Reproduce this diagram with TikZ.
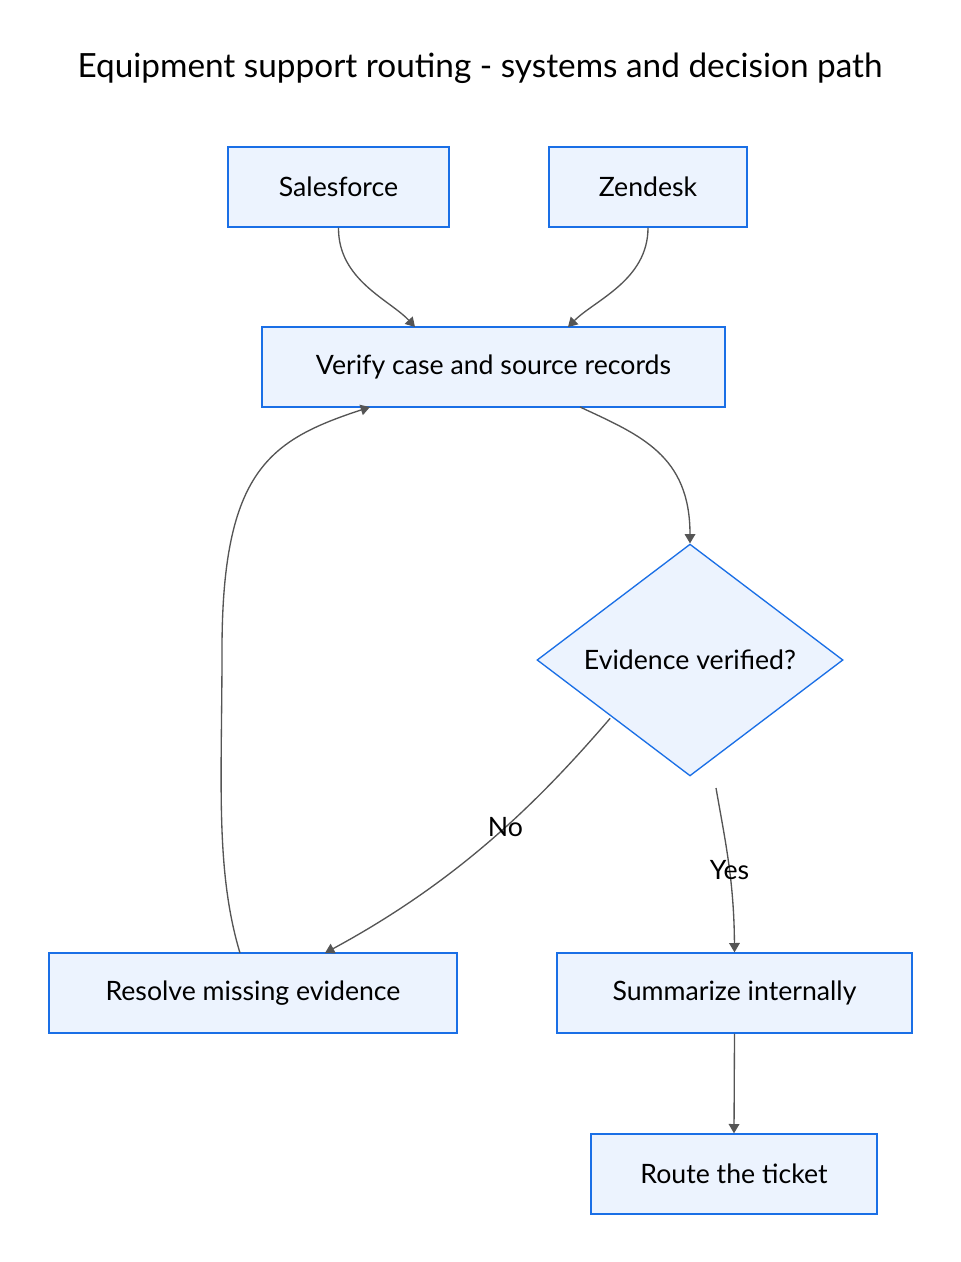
\documentclass[tikz,border=0pt]{standalone}
\usepackage{fontspec}
\setmainfont{Lato}
\usetikzlibrary{positioning,shapes.geometric,arrows.meta}

\definecolor{boxfill}{HTML}{ECF3FE}
\definecolor{boxline}{HTML}{1A6FE6}
\definecolor{edgecol}{HTML}{555555}

\begin{document}
\begin{tikzpicture}[x=0.75pt,y=-0.75pt]
		\tikzset{procbox/.style={draw=boxline,fill=boxfill,line width=1pt,font=\fontsize{20}{24}\selectfont,text=black}}
		\tikzset{flowedge/.style={draw=edgecol,line width=1pt,-{Triangle[length=7pt,width=8pt]}}}
		\tikzset{edgelabel/.style={font=\fontsize{20}{24}\selectfont}}
		
		\useasboundingbox[fill=white] (0,0) rectangle (960,1262);
		
		\newcommand\drawBox[5] % {x} {y} {width} {name} {label}
		{
			\node[procbox,minimum width=#3*0.75pt,minimum height=60pt] at (#1, #2) (#4) {#5};
		}
		
		\node[font=\fontsize{25}{30}\selectfont] (title) at (480,68) {Equipment support routing - systems and decision path};
		
		\drawBox{338.5}{187}{221}{sales}{Salesforce}
		\drawBox{648}{187}{198}{zendesk}{Zendesk}
		\drawBox{493.5}{367}{463}{verify}{Verify case and source records}
		\drawBox{253}{993}{408}{resolve}{Resolve missing evidence}
		\drawBox{734.5}{993}{355}{summ}{Summarize internally}
		\drawBox{734}{1174}{286}{route}{Route the ticket}
		
		\node[procbox,diamond,aspect=1,minimum width=229.5pt,inner sep=0pt] at (690,660) (check) {Evidence verified?};
		
		\draw[flowedge] (sales.south) .. controls (338,280) and (390,300) .. (415,327);
		\draw[flowedge] (zendesk.south) .. controls (648,280) and (595,300) .. (568,327);
		\draw[flowedge] (580,407) .. controls (640,435) and (690,455) .. (check.north);
		\draw[flowedge] (check.south west) ++(-3,0) coordinate (nostart) .. controls (540,800) and (460,880) .. node[edgelabel,pos=0.45] {No} (325,953);
		\draw[flowedge] (716,788) .. controls (725,840) and (734,880) .. node[edgelabel,pos=0.55] {Yes} (summ.north);
		\draw[flowedge] (240,953) .. controls (215,870) and (222,780) .. (222,650) .. controls (222,470) and (270,440) .. (370,407);
		\draw[flowedge] (summ.south) -- (route.north);
		
\end{tikzpicture}
\end{document}
